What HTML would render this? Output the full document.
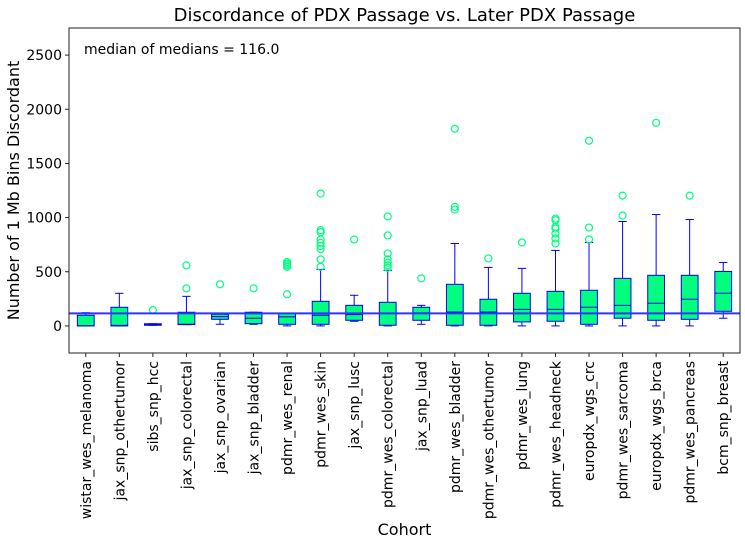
<!DOCTYPE html>
<html><head><meta charset="utf-8"><style>
body{margin:0;background:#fff;font-family:"Liberation Sans","DejaVu Sans",sans-serif}
svg text{font-family:"DejaVu Sans","Liberation Sans",sans-serif}
</style></head><body>
<svg id="chart" width="745" height="545" viewBox="0 0 745 545" xmlns="http://www.w3.org/2000/svg"></svg>
<script>
const categories=["wistar_wes_melanoma","jax_snp_othertumor","sibs_snp_hcc","jax_snp_colorectal","jax_snp_ovarian","jax_snp_bladder","pdmr_wes_renal","pdmr_wes_skin","jax_snp_lusc","pdmr_wes_colorectal","jax_snp_luad","pdmr_wes_bladder","pdmr_wes_othertumor","pdmr_wes_lung","pdmr_wes_headneck","europdx_wgs_crc","pdmr_wes_sarcoma","europdx_wgs_brca","pdmr_wes_pancreas","bcm_snp_breast"];
const whiskerLow=[0,0,6,12,15,15,0,0,43,0,15,0,0,0,0,0,0,0,0,71];
const q1=[0,0,6,12,61,21,15,15,52,6,52,6,6,37,43,15,71,52,61,135];
const medians=[2,5,12,15,86,71,83,99,104,117,120,129,129,153,153,172,190,209,246,301];
const q3=[98,172,20,126,107,126,117,227,190,218,172,384,246,301,319,329,439,467,467,503];
const whiskerHigh=[122,301,20,273,107,126,117,522,283,513,190,761,540,531,697,770,964,1028,982,586];
const outliers=[[],[],[147],[559,347],[384],[347],[292,545,560,575,590],[1222,884,866,798,767,737,709,614,546],[798],[1010,835,669,614,583,559,537],[439],[1820,1099,1074],[623],[770],[991,976,914,899,853,807,761],[1710,908,798],[1203,1019],[1875],[1203],[]];
const yTicks=[0,500,1000,1500,2000,2500];
const medianOfMedians=116.0;

const NS="http://www.w3.org/2000/svg";
const svg=document.getElementById('chart');
const L=69,R=740,T=28,B=353,yMin=-250,yMax=2750;
const y=v=>B-(v-yMin)/(yMax-yMin)*(B-T);
const step=(R-L)/categories.length;
const x=i=>L+step*(i+0.5);
function mk(tag,attrs,parent){const e=document.createElementNS(NS,tag);for(const k in attrs)e.setAttribute(k,attrs[k]);(parent||svg).appendChild(e);return e;}

const title=mk('text',{x:(L+R)/2,y:21,'text-anchor':'middle','font-size':18,fill:'#000'});


title.textContent='Discordance of PDX Passage vs. Later PDX Passage';

const boxes=mk('g',{});


const bw=step*0.5;
categories.forEach((c,i)=>{
  const g=mk('g',{},boxes);
  
  
  const cx=x(i);
  mk('line',{x1:cx,x2:cx,y1:y(q3[i]),y2:y(whiskerHigh[i]),stroke:'#0000ff','stroke-width':1},g);
  mk('line',{x1:cx,x2:cx,y1:y(q1[i]),y2:y(whiskerLow[i]),stroke:'#0000ff','stroke-width':1},g);
  mk('line',{x1:cx-bw/4,x2:cx+bw/4,y1:y(whiskerHigh[i]),y2:y(whiskerHigh[i]),stroke:'#0000ff','stroke-width':1},g);
  mk('line',{x1:cx-bw/4,x2:cx+bw/4,y1:y(whiskerLow[i]),y2:y(whiskerLow[i]),stroke:'#0000ff','stroke-width':1},g);
  mk('rect',{x:cx-bw/2,y:y(q3[i]),width:bw,height:Math.max(1,y(q1[i])-y(q3[i])),fill:'#00ff7f',stroke:'#0000ff','stroke-width':1},g);
  mk('line',{x1:cx-bw/2,x2:cx+bw/2,y1:y(medians[i]),y2:y(medians[i]),stroke:'#0000cc','stroke-width':1},g);
  outliers[i].forEach(v=>{
    const o=mk('circle',{cx:cx,cy:y(v),r:3.5,fill:'none',stroke:'#00ff7f','stroke-width':1.2},g);
    
    
  });
});

const ml=mk('line',{x1:L,x2:R,y1:y(medianOfMedians),y2:y(medianOfMedians),stroke:'#3333ff','stroke-width':2});



const ann=mk('text',{x:84,y:54,'font-size':14,fill:'#000'});


ann.textContent='median of medians = '+medianOfMedians.toFixed(1);

const frame=mk('rect',{x:L,y:T,width:R-L,height:B-T,fill:'none',stroke:'#222','stroke-width':1});



const yax=mk('g',{});


yTicks.forEach(t=>{
  mk('line',{x1:L-4,x2:L,y1:y(t),y2:y(t),stroke:'#222'},yax);
  const tx=mk('text',{x:L-7,y:y(t)+5,'text-anchor':'end','font-size':14,fill:'#000'},yax);
  
  
  tx.textContent=t;
});
const xax=mk('g',{});


categories.forEach((c,i)=>{
  mk('line',{x1:x(i),x2:x(i),y1:B,y2:B+4,stroke:'#222'},xax);
  const tx=mk('text',{x:0,y:0,'text-anchor':'end','font-size':14,fill:'#000',transform:`translate(${x(i)+5},${B+8}) rotate(-90)`},xax);
  
  
  tx.textContent=c;
});
const yt=mk('text',{x:0,y:0,'text-anchor':'middle','font-size':16,fill:'#000',transform:`translate(19,${(T+B)/2}) rotate(-90)`});


yt.textContent='Number of 1 Mb Bins Discordant';
const xt=mk('text',{x:(L+R)/2,y:535,'text-anchor':'middle','font-size':16,fill:'#000'});


xt.textContent='Cohort';
</script>
</body></html>
